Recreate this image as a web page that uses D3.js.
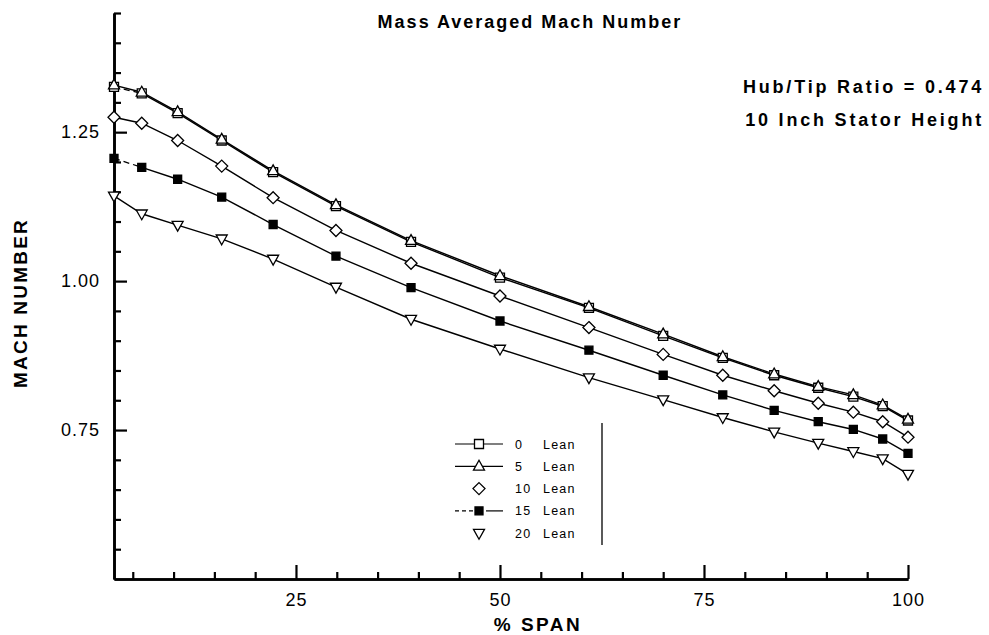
<!DOCTYPE html>
<html>
<head>
<meta charset="utf-8">
<script src="https://cdn.jsdelivr.net/npm/d3@7/dist/d3.min.js"></script>
<style>
  body { margin: 0; background: #fff; }
  svg { display: block; }
  text { font-family: "Liberation Sans", Arial, Helvetica, sans-serif; fill: #000; }
</style>
</head>
<body>
<svg id="chart" width="989" height="635"></svg>
<script>
// ---- data ----
const spanPct = [2.7, 6.1, 10.5, 15.9, 22.2, 29.9, 39.1, 50.0, 60.9, 70.0, 77.3, 83.6, 89.0, 93.3, 96.9, 100];
const lean0  = [1.326, 1.315, 1.282, 1.236, 1.183, 1.126, 1.066, 1.006, 0.955, 0.908, 0.871, 0.842, 0.821, 0.806, 0.790, 0.766];
const lean5  = [1.329, 1.317, 1.284, 1.238, 1.185, 1.128, 1.068, 1.009, 0.957, 0.911, 0.873, 0.844, 0.823, 0.809, 0.792, 0.768];
const lean10 = [1.275, 1.265, 1.236, 1.193, 1.140, 1.085, 1.030, 0.975, 0.922, 0.877, 0.842, 0.816, 0.795, 0.780, 0.764, 0.738];
const lean15 = [1.206, 1.191, 1.171, 1.141, 1.095, 1.042, 0.989, 0.933, 0.884, 0.842, 0.809, 0.783, 0.764, 0.751, 0.735, 0.711];
const lean20 = [1.143, 1.113, 1.094, 1.071, 1.037, 0.990, 0.936, 0.886, 0.838, 0.801, 0.771, 0.747, 0.728, 0.714, 0.702, 0.676];
const seriesNames = ["0", "5", "10", "15", "20"];
const xMajorTicks = [25, 50, 75, 100];
const xMinorTicks = [5, 10, 15, 20, 30, 35, 40, 45, 55, 60, 65, 70, 80, 85, 90, 95];
const yMajorTicks = [0.75, 1.00, 1.25];
const yMinorTicks = [0.55, 0.60, 0.65, 0.70, 0.80, 0.85, 0.90, 0.95, 1.05, 1.10, 1.15, 1.20, 1.30, 1.35, 1.40, 1.45];
const titleText = "Mass Averaged Mach Number";
const noteLines = ["Hub/Tip Ratio = 0.474", "10 Inch Stator Height"];
const xLabel = "% SPAN";
const yLabel = "MACH NUMBER";

// ---- setup ----
const svg = d3.select("#chart");
const x = d3.scaleLinear().domain([2.7, 100]).range([114, 908]);
const y = d3.scaleLinear().domain([0.5, 1.45]).range([579, 13]);

const series = [
  { name: seriesNames[0], values: lean0,  marker: "square",  dashFirst: true },
  { name: seriesNames[1], values: lean5,  marker: "tri",     dashFirst: false },
  { name: seriesNames[2], values: lean10, marker: "diamond", dashFirst: false },
  { name: seriesNames[3], values: lean15, marker: "fsquare", dashFirst: true },
  { name: seriesNames[4], values: lean20, marker: "dtri",    dashFirst: false }
];

function markerPath(type) {
  switch (type) {
    case "square":  return "M-4.5,-4.5H4.5V4.5H-4.5Z";
    case "fsquare": return "M-4,-4H4V4H-4Z";
    case "tri":     return "M0,-6L5.5,3.8H-5.5Z";
    case "dtri":    return "M0,6L5.5,-3.8H-5.5Z";
    case "diamond": return "M0,-6L6,0L0,6L-6,0Z";
  }
}

// ---- axes ----
const yAxisMajor = d3.axisLeft(y).tickValues(yMajorTicks).tickSize(-13).tickSizeOuter(0)
  .tickPadding(14).tickFormat(d3.format(".2f"));
const yAxisMinor = d3.axisLeft(y).tickValues(yMinorTicks).tickSize(-7).tickSizeOuter(0).tickFormat("");
const xAxisMajor = d3.axisBottom(x).tickValues(xMajorTicks).tickSize(-14).tickSizeOuter(0)
  .tickPadding(14).tickFormat(d3.format("d"));
const xAxisMinor = d3.axisBottom(x).tickValues(xMinorTicks).tickSize(-7).tickSizeOuter(0).tickFormat("");

function styleAxis(g) {
  g.select(".domain").attr("stroke", "#000").attr("stroke-width", 2.6);
  g.selectAll(".tick line").attr("stroke", "#000").attr("stroke-width", 2.2);
  g.selectAll(".tick text").attr("font-size", 18).attr("letter-spacing", 1)
    .style("font-family", '"Liberation Sans", Arial, sans-serif').attr("fill", "#000");
}

svg.append("g").attr("transform", "translate(114,0)").call(yAxisMinor).call(styleAxis);
svg.append("g").attr("transform", "translate(114,0)").call(yAxisMajor).call(styleAxis);
svg.append("g").attr("transform", "translate(0,579)").call(xAxisMinor).call(styleAxis);
svg.append("g").attr("transform", "translate(0,579)").call(xAxisMajor).call(styleAxis);

// ---- lines ----
const line = d3.line().x(d => x(d[0])).y(d => y(d[1]));
series.forEach(s => {
  const pts = spanPct.map((v, i) => [v, s.values[i]]);
  if (s.dashFirst) {
    svg.append("path").attr("d", line(pts.slice(0, 2))).attr("fill", "none")
      .attr("stroke", "#000").attr("stroke-width", 1.3).attr("stroke-dasharray", "6,4");
    svg.append("path").attr("d", line(pts.slice(1))).attr("fill", "none")
      .attr("stroke", "#000").attr("stroke-width", 1.4);
  } else {
    svg.append("path").attr("d", line(pts)).attr("fill", "none")
      .attr("stroke", "#000").attr("stroke-width", 1.4);
  }
});

// ---- markers ----
series.forEach(s => {
  svg.append("g").selectAll("path").data(spanPct.map((v, i) => [v, s.values[i]])).join("path")
    .attr("transform", d => `translate(${x(d[0])},${y(d[1])})`)
    .attr("d", markerPath(s.marker))
    .attr("fill", s.marker === "fsquare" ? "#000" : "#fff")
    .attr("stroke", "#000").attr("stroke-width", 1.3);
});

// ---- texts ----
svg.append("text").attr("x", 530).attr("y", 28).attr("text-anchor", "middle")
  .attr("font-size", 18).attr("font-weight", "bold").attr("letter-spacing", 2)
  .text(titleText);
noteLines.forEach((t, i) => {
  svg.append("text").attr("x", 984).attr("y", 93 + i * 33).attr("text-anchor", "end")
    .attr("font-size", 18).attr("font-weight", "bold").attr("letter-spacing", 2.8)
    .text(t);
});
svg.append("text").attr("x", 538).attr("y", 631).attr("text-anchor", "middle")
  .attr("font-size", 19).attr("font-weight", "bold").attr("letter-spacing", 2.5)
  .text(xLabel);
svg.append("text").attr("transform", "translate(27,303) rotate(-90)").attr("text-anchor", "middle")
  .attr("font-size", 19).attr("font-weight", "bold").attr("letter-spacing", 2.2)
  .text(yLabel);

// ---- legend ----
const lg = svg.append("g");
lg.append("line").attr("x1", 602).attr("x2", 602).attr("y1", 423).attr("y2", 545)
  .attr("stroke", "#000").attr("stroke-width", 1.3);
const rowY = i => 444 + i * 22.3;
series.forEach((s, i) => {
  const cy = rowY(i);
  if (s.marker === "square" || s.marker === "tri") {
    lg.append("line").attr("x1", 455).attr("x2", 503).attr("y1", cy).attr("y2", cy)
      .attr("stroke", "#000").attr("stroke-width", 1.2);
  } else if (s.marker === "fsquare") {
    lg.append("line").attr("x1", 455).attr("x2", 474).attr("y1", cy).attr("y2", cy)
      .attr("stroke", "#000").attr("stroke-width", 1.2).attr("stroke-dasharray", "4,3");
    lg.append("line").attr("x1", 486).attr("x2", 503).attr("y1", cy).attr("y2", cy)
      .attr("stroke", "#000").attr("stroke-width", 1.2);
  }
  lg.append("path").attr("transform", `translate(479,${cy})`).attr("d", markerPath(s.marker))
    .attr("fill", s.marker === "fsquare" ? "#000" : "#fff").attr("stroke", "#000").attr("stroke-width", 1.3);
  lg.append("text").attr("x", 515).attr("y", cy + 4.5).attr("font-size", 12.5).attr("letter-spacing", 1.2)
    .text(s.name);
  lg.append("text").attr("x", 543).attr("y", cy + 4.5).attr("font-size", 12.5).attr("letter-spacing", 1.2)
    .text("Lean");
});
</script>
</body>
</html>
